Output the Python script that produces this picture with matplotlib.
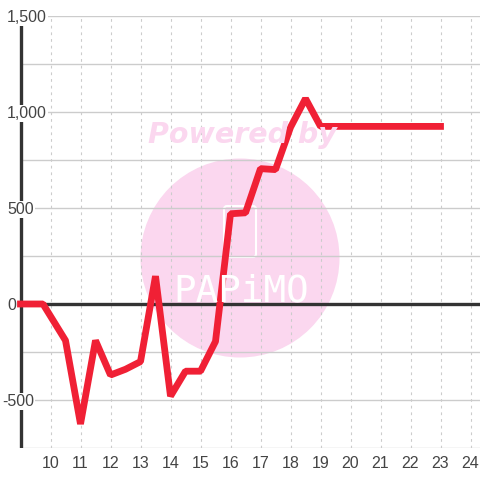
import matplotlib
matplotlib.use('Agg')
import matplotlib.pyplot as plt
from matplotlib.patches import Circle, FancyBboxPatch

# horas e saldo
hours = [9, 9.75, 10.5, 11, 11.5, 12, 12.5, 13, 13.5, 14, 14.5, 15, 15.5, 16, 16.5, 17, 17.5, 18, 18.5, 19, 20, 21, 22, 23]
values = [0, 0, -190, -625, -190, -370, -340, -300, 145, -480, -350, -350, -195, 470, 475, 705, 700, 920, 1070, 925, 925, 925, 925, 925]

x_ticks = list(range(10, 25))
y_major = [1500, 1000, 500, 0, -500]
y_major_labels = ['1,500', '1,000', '500', '0', '-500']
y_grid = [1500, 1250, 1000, 750, 500, 250, -250, -500, -750]

plt.rcParams['font.family'] = ['Liberation Sans', 'DejaVu Sans']

fig = plt.figure(figsize=(4.8, 4.8), dpi=100)
ax = fig.add_axes([0, 32 / 480, 1, 432 / 480])

# 30 px por hora, 96 px por 500
x_right = 10 + (480 - 50.5) / 30
ax.set_xlim(10 - 50.5 / 30, x_right)
ax.set_ylim(-750, 1500)
for s in ax.spines.values():
    s.set_visible(False)
ax.set_yticks([])
ax.set_xticks(x_ticks)
ax.tick_params(axis='x', length=0, pad=6, labelsize=11.5, labelcolor='#444444')
ax.patch.set_alpha(0)

# marca d'agua em pixels da figura
def px(x, y):
    return x / 480, 1 - y / 480

ax.add_patch(Circle((240, 480 - 258), 99.5, transform=None, facecolor='#fbd7ef', edgecolor='none', zorder=0))
fig.text(*px(242, 135), 'Powered by', color='#fbd7ef', fontsize=20.5, fontweight='bold', fontstyle='italic',
         family='DejaVu Sans', ha='center', va='center', zorder=0)
ax.add_patch(FancyBboxPatch((224, 480 - 257), 32, 51, boxstyle='round,pad=0,rounding_size=3', transform=None,
                            facecolor='none', edgecolor='white', linewidth=1.5, zorder=0.5))
fig.text(*px(241, 292), 'PAPiMO', color='white', fontsize=27, family='DejaVu Sans Mono', ha='center', va='center', zorder=0.5)

# grade
for y in y_grid:
    ax.plot([9, x_right], [y, y], color='#cccccc', lw=1, zorder=1, solid_capstyle='butt')
for x in x_ticks:
    ax.plot([x, x], [-750, 1500], color='#cccccc', lw=0.8, ls=(0, (2.5, 3.5)), zorder=1)

# eixos
ax.plot([9, 9], [-750, 1500], color='#333333', lw=2.4, zorder=2, solid_capstyle='butt')
ax.plot([9, x_right], [0, 0], color='#333333', lw=2.4, zorder=2, solid_capstyle='butt')

ax.plot(hours, values, color='#f02035', lw=4.9, zorder=3, solid_joinstyle='bevel', solid_capstyle='projecting')

# rotulos do eixo y com fundo branco
for y, lab in zip(y_major, y_major_labels):
    ax.annotate(lab, (0, y), xycoords=ax.get_yaxis_transform(), xytext=(2 if lab.startswith('-') else 7, -1.5),
                textcoords='offset pixels', ha='left', va='center', fontsize=11.5, color='#444444', zorder=4,
                bbox=dict(facecolor='white', edgecolor='none', pad=1), annotation_clip=False)

fig.savefig('out.png', dpi=100)
plt.close(fig)
